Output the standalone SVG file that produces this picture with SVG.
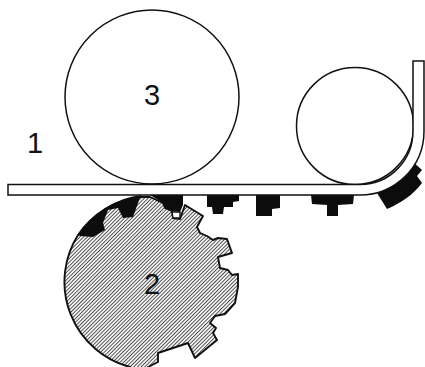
<svg xmlns="http://www.w3.org/2000/svg" width="425" height="367" viewBox="0 0 425 367">
<style>
.o{fill:none;stroke:#111;stroke-width:1.5}
.b{fill:#0c0c0c}
.t{font-family:"Liberation Sans",Arial,sans-serif;font-size:29px;fill:#111;text-anchor:middle}
</style>
<defs>
<pattern id="h" patternUnits="userSpaceOnUse" width="2.6" height="2.6" patternTransform="rotate(45)">
<rect width="2.6" height="2.6" fill="#f2f2f2"/><rect width="0.85" height="2.6" fill="#444"/>
</pattern>
</defs>
<rect width="425" height="367" fill="#fff"/>
<g id="roller-3"><circle class="o" cx="152" cy="97" r="87"/><text class="t" x="152" y="105">3</text></g>
<g id="roller-small"><circle class="o" cx="355" cy="126" r="58.5"/></g>
<g id="gear-2">
<path d="M150 197L163 203L165 208L172 211L173 218L180 219L185 205L203 216L197 227L200 233L207 236L213 240L218 238L227 239L232 253L218 257L220 268L228 270L232 275L238 274L238 287L235 303L225 314L215 316L210 323L216 328L213 333L217 340L195 358L188 343L158 353L158 362L148 367L147 370L130 370L130 367A88 88 0 0 1 78 235A88 88 0 0 1 140 197Z" fill="url(#h)" stroke="#111" stroke-width="1.9" stroke-linejoin="round"/>
<path d="M172 212L180 212L180 218L173 218Z" fill="#fff" stroke="#111" stroke-width="1.4"/>
<text class="t" x="152" y="294">2</text>
</g>
<g id="pads">
<path class="b" d="M78 235A88 88 0 0 1 141 195L138 203L133 217L123 218L118 208L108 210L103 223L105 230L93 237L80 236Z"/>
<path class="b" d="M150 195H183V205L180 212L172 211L165 208L163 203Z"/>
<path class="b" d="M207 195H239V201L233 202V207L224 207L223 214H213L212 207H207Z"/>
<path class="b" d="M256 195H280V208L272 209V216H256Z"/>
<path class="b" d="M311 195H354L353 204L338 205V216H327V205L312 204Z"/>
<path class="b" d="M372 192L412 161L422 170L417 176L422 183C413 195 401 203 387 209L377 193Z"/>
</g>
<g id="strip">
<path d="M360 184.500H8V195H360C394 195 424 168 424 131V61H413V131C413 160 390 184.500 360 184.500Z" fill="#fff" stroke="#111" stroke-width="1.5"/>
</g>
<g id="label-1"><text class="t" x="35" y="153">1</text></g>
</svg>
